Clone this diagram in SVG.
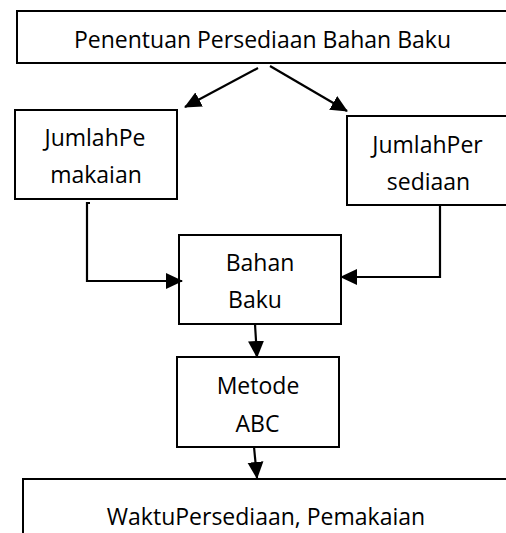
<svg xmlns="http://www.w3.org/2000/svg" width="506" height="533" viewBox="0 0 506 533">
<style>
.box{fill:#fff;stroke:#000;stroke-width:2}
.t{font-family:"Open Sans","Liberation Sans",sans-serif;font-size:23px;fill:#000;text-anchor:middle}
.c{fill:none;stroke:#000;stroke-width:2.2}
</style>
<defs>
<marker id="ah" markerUnits="userSpaceOnUse" markerWidth="18" markerHeight="18" refX="16" refY="9" orient="auto">
<path d="M0,1 L17,9 L0,17 Z" fill="#000"/>
</marker>
</defs>
<rect width="506" height="533" fill="#fff"/>
<g id="n-top"><rect class="box" x="17" y="11" width="500" height="52"/><text class="t" x="262.5" y="48">Penentuan Persediaan Bahan Baku</text></g>
<g id="n-pemakaian"><rect class="box" x="15" y="110" width="162" height="89"/><text class="t" x="95" y="146">JumlahPe</text><text class="t" x="96" y="183">makaian</text></g>
<g id="n-persediaan"><rect class="box" x="347" y="116" width="170" height="89"/><text class="t" x="427.5" y="153">JumlahPer</text><text class="t" x="428.5" y="190">sediaan</text></g>
<g id="n-bahan"><rect class="box" x="179" y="235" width="162" height="89"/><text class="t" x="260" y="271">Bahan</text><text class="t" x="255" y="308">Baku</text></g>
<g id="n-metode"><rect class="box" x="177" y="357" width="162" height="90"/><text class="t" x="258" y="394">Metode</text><text class="t" x="257.5" y="432">ABC</text></g>
<g id="n-waktu"><rect class="box" x="23" y="479" width="500" height="70"/><text class="t" x="266" y="525">WaktuPersediaan, Pemakaian</text></g>
<g id="connectors">
<line class="c" x1="258" y1="68" x2="185" y2="107" marker-end="url(#ah)"/>
<line class="c" x1="270" y1="66" x2="347" y2="111" marker-end="url(#ah)"/>
<polyline class="c" points="90,203 87,203 87,281 182,281" marker-end="url(#ah)"/>
<polyline class="c" points="440,206 440,277 341,277" marker-end="url(#ah)"/>
<line class="c" x1="255" y1="324" x2="257" y2="357" marker-end="url(#ah)"/>
<line class="c" x1="254" y1="447" x2="257" y2="478" marker-end="url(#ah)"/>
</g>
</svg>
